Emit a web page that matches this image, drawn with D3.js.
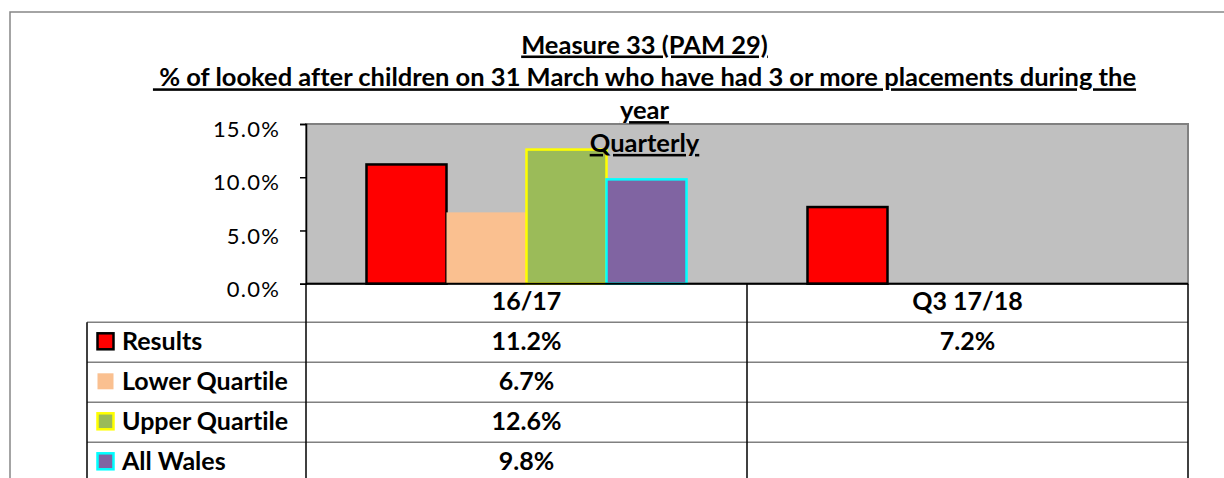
<!DOCTYPE html>
<html>
<head>
<meta charset="utf-8">
<script src="https://cdn.jsdelivr.net/npm/d3@7"></script>
<style>
  body { margin: 0; background: #fff; }
  svg text { font-family: Lato, "Open Sans", sans-serif; fill: #000; font-variant-ligatures: none; }
  .title { font-weight: bold; font-size: 25.5px; text-decoration: underline; white-space: pre; }
  .tick text { font-size: 22px; letter-spacing: 1.2px; }
  .cell { font-weight: bold; font-size: 25px; }
</style>
</head>
<body>
<script>
// chart data
var categories = ["16/17", "Q3 17/18"];
var seriesNames = ["Results", "Lower Quartile", "Upper Quartile", "All Wales"];
var results = [11.2, 7.2];
var lowerQuartile = [6.7, null];
var upperQuartile = [12.6, null];
var allWales = [9.8, null];
var yTicks = [0, 5, 10, 15];
var titleLines = ["Measure 33 (PAM 29)",
    " % of looked after children on 31 March who have had 3 or more placements during the",
    "year",
    "Quarterly"];

var seriesValues = [results, lowerQuartile, upperQuartile, allWales];
var fills = ["#ff0000", "#fac090", "#9bbb59", "#8064a2"];
var strokes = ["#000000", "none", "#ffff00", "#00ffff"];

var width = 1224, height = 478;
var plotLeft = 306, plotRight = 1188, plotTop = 124, plotBottom = 283.7;
var rowH = 40, tableLeft = 87;

var svg = d3.select("body").append("svg")
    .attr("width", width)
    .attr("height", height);

//outer chart frame
svg.append("rect")
    .attr("x", 10).attr("y", 12)
    .attr("width", 1240).attr("height", 500)
    .attr("fill", "#fff")
    .attr("stroke", "#868686")
    .attr("stroke-width", 1.5);

var x0 = d3.scaleBand()
    .domain(categories)
    .range([plotLeft, plotRight]);

var x1 = d3.scaleBand()
    .domain(seriesNames)
    .range([0, x0.bandwidth()])
    .paddingOuter(0.756);

var y = d3.scaleLinear()
    .domain([0, 15])
    .range([plotBottom, plotTop]);

//plot background
svg.append("rect")
    .attr("x", plotLeft).attr("y", plotTop)
    .attr("width", plotRight - plotLeft).attr("height", plotBottom - plotTop)
    .attr("fill", "#c0c0c0")
    .attr("stroke", "#808080")
    .attr("stroke-width", 2);

//bars
var bars = [];
seriesNames.forEach(function(s, si){
    categories.forEach(function(c, ci){
        var v = seriesValues[si][ci];
        if (v != null) bars.push({series: s, si: si, cat: c, value: v});
    });
});

svg.selectAll(".bar")
    .data(bars)
    .enter()
    .append("rect")
    .attr("class", "bar")
    .attr("x", function(d){ return x0(d.cat) + x1(d.series); })
    .attr("y", function(d){ return y(d.value); })
    .attr("width", x1.bandwidth())
    .attr("height", function(d){ return y(0) - y(d.value); })
    .attr("fill", function(d){ return fills[d.si]; })
    .attr("stroke", function(d){ return strokes[d.si]; })
    .attr("stroke-width", 2.5);

//y axis
var yAxis = d3.axisLeft(y)
    .tickValues(yTicks)
    .tickSize(6)
    .tickPadding(20)
    .tickFormat(function(d){ return d.toFixed(1) + "%"; });

var axis = svg.append("g")
    .attr("transform", "translate(" + plotLeft + ",0)")
    .call(yAxis);
axis.select(".domain").attr("stroke", "#000").attr("stroke-width", 1.5);
axis.selectAll(".tick line").attr("stroke", "#000").attr("stroke-width", 1.5);
axis.selectAll(".tick text").attr("dy", "0.58em");

//zero line
svg.append("line")
    .attr("x1", plotLeft).attr("x2", plotRight)
    .attr("y1", y(0)).attr("y2", y(0))
    .attr("stroke", "#000").attr("stroke-width", 2);

//data table
var tableTop = plotBottom;
var rowTops = [tableTop];
for (var r = 0; r <= seriesNames.length; r++) rowTops.push(322.3 + r * rowH);

var grid = svg.append("g");
//horizontal rules
rowTops.slice(1).forEach(function(t){
    grid.append("line")
        .attr("x1", tableLeft).attr("x2", plotRight)
        .attr("y1", t).attr("y2", t)
        .attr("stroke", "#808080").attr("stroke-width", 1.5);
});
//vertical rules
[tableLeft, plotLeft, x0(categories[1]), plotRight].forEach(function(vx, i){
    grid.append("line")
        .attr("x1", vx).attr("x2", vx)
        .attr("y1", i == 0 ? rowTops[1] : tableTop).attr("y2", height)
        .attr("stroke", "#000").attr("stroke-width", 1.5);
});

//category header
svg.selectAll(".catLabel")
    .data(categories)
    .enter()
    .append("text")
    .attr("class", "cell")
    .attr("x", function(d){ return x0(d) + x0.bandwidth() / 2; })
    .attr("y", tableTop + 26)
    .attr("text-anchor", "middle")
    .text(function(d){ return d; });

//legend rows
var rows = svg.selectAll(".row")
    .data(seriesNames)
    .enter()
    .append("g")
    .attr("transform", function(d, i){ return "translate(0," + rowTops[i + 1] + ")"; });

rows.append("rect")
    .attr("x", 97.5).attr("y", 11)
    .attr("width", 16).attr("height", 16)
    .attr("fill", function(d, i){ return fills[i]; })
    .attr("stroke", function(d, i){ return strokes[i]; })
    .attr("stroke-width", 2.5);

rows.append("text")
    .attr("class", "cell")
    .attr("x", 122)
    .attr("y", 28)
    .text(function(d){ return d; });

rows.each(function(s, si){
    d3.select(this).selectAll(".val")
        .data(categories)
        .enter()
        .append("text")
        .attr("class", "cell")
        .attr("x", function(c){ return x0(c) + x0.bandwidth() / 2; })
        .attr("y", 28)
        .attr("text-anchor", "middle")
        .text(function(c, ci){
            var v = seriesValues[si][ci];
            return v == null ? "" : v.toFixed(1) + "%";
        });
});

//title
svg.selectAll(".title")
    .data(titleLines)
    .enter()
    .append("text")
    .attr("class", "title")
    .attr("x", 644.5)
    .attr("y", function(d, i){ return 53.5 + i * 32.8; })
    .attr("text-anchor", "middle")
    .text(function(d){ return d; });
</script>
</body>
</html>
